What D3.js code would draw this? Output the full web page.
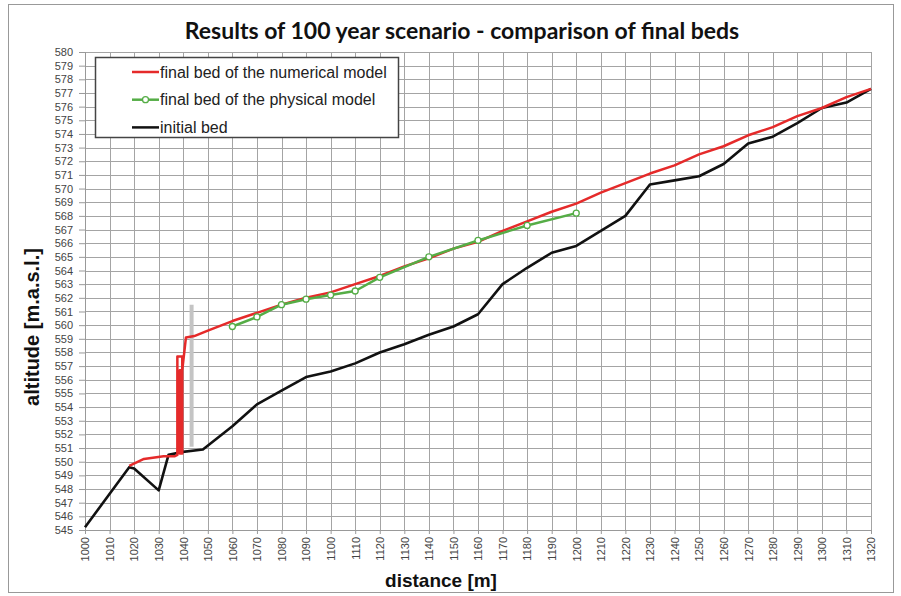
<!DOCTYPE html>
<html>
<head>
<meta charset="utf-8">
<script src="https://cdn.jsdelivr.net/npm/d3@7"></script>
<style>
  body { margin: 0; background: #fff; }
  text { font-family: "Liberation Sans", Arial, sans-serif; }
</style>
</head>
<body>
<svg id="chart" width="901" height="596"></svg>
<script>
// initial bed
const initialDistance = [1000, 1018, 1020, 1030, 1034, 1039, 1048, 1060, 1070, 1080, 1090, 1100, 1110, 1120, 1130, 1140, 1150, 1160, 1170, 1180, 1190, 1200, 1210, 1220, 1230, 1240, 1250, 1260, 1270, 1280, 1290, 1300, 1310, 1320];
const initialAltitude = [545.2, 549.6, 549.5, 547.9, 550.5, 550.7, 550.9, 552.6, 554.2, 555.2, 556.2, 556.6, 557.2, 558.0, 558.6, 559.3, 559.9, 560.8, 563.0, 564.2, 565.3, 565.8, 566.9, 568.0, 570.3, 570.6, 570.9, 571.8, 573.3, 573.8, 574.8, 575.9, 576.3, 577.3];

// final bed, numerical model
const numDistance = [1018, 1024, 1032, 1036.6, 1037.6, 1037.6, 1039.6, 1039.6, 1038.6, 1038.6, 1039.6, 1041.1, 1044.5, 1050, 1060, 1070, 1080, 1090, 1100, 1110, 1120, 1130, 1140, 1150, 1160, 1170, 1180, 1190, 1200, 1210, 1220, 1230, 1240, 1250, 1260, 1270, 1280, 1290, 1300, 1310, 1320];
const numAltitude = [549.7, 550.2, 550.4, 550.4, 550.5, 557.7, 557.7, 550.6, 550.6, 556.7, 556.7, 559.1, 559.2, 559.6, 560.3, 560.9, 561.5, 562.0, 562.4, 563.0, 563.6, 564.3, 564.9, 565.6, 566.1, 566.9, 567.6, 568.3, 568.9, 569.7, 570.4, 571.1, 571.7, 572.5, 573.1, 573.9, 574.5, 575.3, 575.9, 576.7, 577.3];

// final bed, physical model
const physDistance = [1060, 1070, 1080, 1090, 1100, 1110, 1120, 1140, 1160, 1180, 1200];
const physAltitude = [559.9, 560.6, 561.5, 561.9, 562.2, 562.5, 563.5, 565.0, 566.2, 567.3, 568.2];

// weir (grey bar)
const weirDistance = [1043.4, 1043.4];
const weirAltitude = [551.1, 561.5];

const xTicks = d3.range(1000, 1321, 10);
const yTicks = d3.range(545, 581, 1);
const legendLabels = ["final bed of the numerical model", "final bed of the physical model", "initial bed"];

const svg = d3.select("#chart");
const plotLeft = 85, plotRight = 871, plotTop = 52, plotBottom = 530;

const x = d3.scaleLinear().domain([1000, 1320]).range([plotLeft, plotRight]);
const y = d3.scaleLinear().domain([545, 580]).range([plotBottom, plotTop]);

// outer frame
svg.append("rect")
  .attr("x", 8.5).attr("y", 4.5).attr("width", 885).attr("height", 588)
  .attr("fill", "none").attr("stroke", "#999").attr("stroke-width", 1);

// grid
svg.append("g")
  .selectAll("line").data(yTicks).join("line")
  .attr("x1", plotLeft).attr("x2", plotRight)
  .attr("y1", d => Math.round(y(d)) + 0.5).attr("y2", d => Math.round(y(d)) + 0.5)
  .attr("stroke", "#a4a4a4").attr("stroke-width", 1);
svg.append("g")
  .selectAll("line").data(xTicks).join("line")
  .attr("x1", d => Math.round(x(d)) + 0.5).attr("x2", d => Math.round(x(d)) + 0.5)
  .attr("y1", plotTop).attr("y2", plotBottom)
  .attr("stroke", "#a4a4a4").attr("stroke-width", 1);

// axes
const yAxis = svg.append("g")
  .attr("transform", `translate(${plotLeft},0)`)
  .call(d3.axisLeft(y).tickValues(yTicks).tickFormat(d3.format("d")).tickSize(6).tickPadding(6));
const xAxis = svg.append("g")
  .attr("transform", `translate(0,${plotBottom})`)
  .call(d3.axisBottom(x).tickValues(xTicks).tickFormat(d3.format("d")).tickSize(4));
[yAxis, xAxis].forEach(g => {
  g.select(".domain").attr("stroke", "#999");
  g.selectAll(".tick line").attr("stroke", "#999");
  g.selectAll("text").attr("fill", "#444").style("font-size", "11px");
});
xAxis.selectAll("text")
  .attr("transform", "rotate(-90)")
  .attr("text-anchor", "end")
  .attr("dy", "0.35em")
  .attr("x", -7).attr("y", 0);

// series
const line = d3.line().x(d => x(d[0])).y(d => y(d[1]));
const zip = (a, b) => a.map((v, i) => [v, b[i]]);

svg.append("path")
  .datum(zip(weirDistance, weirAltitude))
  .attr("d", line).attr("fill", "none")
  .attr("stroke", "#c4c4c4").attr("stroke-width", 4);

svg.append("path")
  .datum(zip(initialDistance, initialAltitude))
  .attr("d", line).attr("fill", "none")
  .attr("stroke", "#111").attr("stroke-width", 2.6).attr("stroke-linejoin", "round");

svg.append("path")
  .datum(zip(numDistance, numAltitude))
  .attr("d", line).attr("fill", "none")
  .attr("stroke", "#e52a2a").attr("stroke-width", 2.5).attr("stroke-linejoin", "round");

const phys = zip(physDistance, physAltitude);
svg.append("path")
  .datum(phys)
  .attr("d", line).attr("fill", "none")
  .attr("stroke", "#55ad46").attr("stroke-width", 2.5).attr("stroke-linejoin", "round");
svg.append("g")
  .selectAll("circle").data(phys).join("circle")
  .attr("cx", d => x(d[0])).attr("cy", d => y(d[1])).attr("r", 3)
  .attr("fill", "#fff").attr("stroke", "#55ad46").attr("stroke-width", 1.3);

// legend
const legend = svg.append("g");
legend.append("rect")
  .attr("x", 95.5).attr("y", 57.5).attr("width", 303).attr("height", 80)
  .attr("fill", "#fff").attr("stroke", "#444").attr("stroke-width", 1.5);
const legendColors = ["#e52a2a", "#55ad46", "#111"];
legendLabels.forEach((label, i) => {
  const ly = 72 + i * 27.7;
  legend.append("line")
    .attr("x1", 132).attr("x2", 159).attr("y1", ly).attr("y2", ly)
    .attr("stroke", legendColors[i]).attr("stroke-width", 2.5);
  if (i === 1) {
    legend.append("circle").attr("cx", 145.5).attr("cy", ly).attr("r", 3)
      .attr("fill", "#fff").attr("stroke", legendColors[i]).attr("stroke-width", 1.3);
  }
  legend.append("text")
    .attr("x", 160).attr("y", ly).attr("dy", "0.35em")
    .style("font-size", "16px").attr("fill", "#222")
    .text(label);
});

// titles
svg.append("text")
  .attr("x", 462).attr("y", 39).attr("text-anchor", "middle")
  .style("font-family", "Lato, 'Open Sans', sans-serif")
  .style("font-size", "23px").style("font-weight", "bold").attr("fill", "#111")
  .text("Results of 100 year scenario - comparison of final beds");

svg.append("text")
  .attr("x", 441).attr("y", 587).attr("text-anchor", "middle")
  .style("font-size", "19px").style("font-weight", "bold").attr("fill", "#111")
  .text("distance [m]");

svg.append("text")
  .attr("transform", "translate(39,327) rotate(-90)")
  .attr("text-anchor", "middle")
  .style("font-size", "20px").style("font-weight", "bold").attr("fill", "#111")
  .text("altitude [m.a.s.l.]");
</script>
</body>
</html>
